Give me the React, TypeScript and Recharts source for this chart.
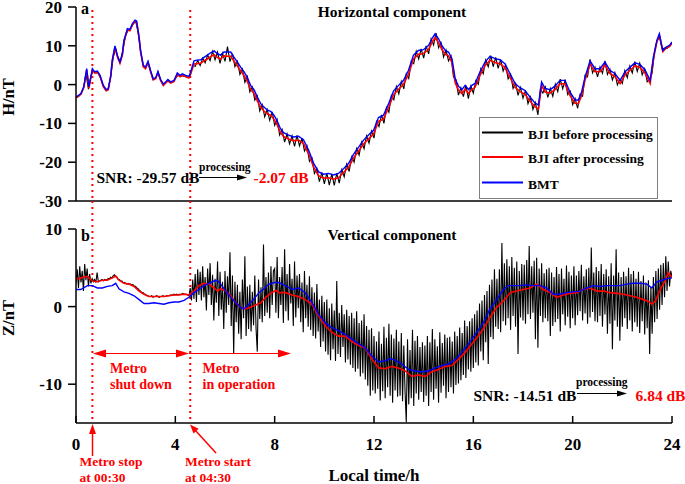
import React from 'react';
import { LineChart, Line, XAxis, YAxis, ReferenceLine } from 'recharts';

const FONT = '"Liberation Serif", "Times New Roman", serif';

const X_TICKS = [0, 4, 8, 12, 16, 20, 24];
const H_TICKS = [-30, -20, -10, 0, 10, 20];
const Z_TICKS = [-10, 0, 10];
const METRO_STOP_H = 0.66;
const METRO_START_H = 4.6;

const SERIES_NAMES = ['BJI before processing', 'BJI after processing', 'BMT'];

// Horizontal component, BMT  [hour, nT]
const H_BMT: [number, number][] = [
  [0, -3.2], [0.2, -2.3], [0.32, -0.4], [0.43, 4.1], [0.52, -0.6], [0.66, 4.1], [0.75, 3.3], [0.86, 3.5], [0.97, 2.4],
  [1.1, -0.2], [1.22, -1.3], [1.3, -1.0], [1.4, 2.4], [1.46, 6.3], [1.57, 10.0], [1.66, 7.6], [1.77, 5.8], [1.87, 8.0], [1.93, 11.4],
  [2.07, 14.4], [2.17, 14.2], [2.27, 15.7], [2.38, 16.6], [2.44, 16.4], [2.54, 12.3], [2.6, 8.8], [2.71, 5.0], [2.8, 4.5], [2.9, 6.0],
  [3.0, 3.7], [3.11, 1.5], [3.21, 1.8], [3.3, 3.4], [3.41, 1.3], [3.52, 0.1], [3.61, 0.7], [3.7, 1.3], [3.81, 0.7], [3.95, 1.1],
  [4.08, 3.0], [4.19, 2.4], [4.28, 2.8], [4.42, 2.4], [4.55, 2.1], [4.64, 3.7], [4.75, 6.1], [4.89, 6.3],
  [5.02, 6.4], [5.15, 7.0], [5.29, 7.6], [5.42, 8.2], [5.56, 8.7], [5.69, 8.0], [5.82, 7.6], [5.96, 8.4],
  [6.09, 8.4], [6.23, 8.4], [6.36, 7.1], [6.5, 5.8], [6.63, 4.5], [6.77, 3.3], [6.9, 1.8],
  [7.03, -0.2], [7.17, -1.3], [7.3, -3.2], [7.44, -4.9], [7.57, -5.8], [7.71, -6.6], [7.84, -6.9], [7.97, -7.9],
  [8.09, -9.2], [8.23, -11.3], [8.36, -12.4], [8.56, -13.0], [8.76, -13.5], [8.96, -13.3],
  [9.16, -14.2], [9.37, -16.9], [9.57, -20.3], [9.77, -22.5], [9.97, -23.1],
  [10.17, -22.9], [10.37, -23.3], [10.57, -22.9], [10.78, -21.6], [10.98, -20.3],
  [11.18, -17.9], [11.38, -16.1], [11.58, -14.3], [11.78, -13.0], [11.98, -11.8],
  [12.18, -8.5], [12.38, -7.9], [12.59, -4.9], [12.79, -1.6], [12.99, -0.2],
  [13.19, 1.1], [13.39, 3.7], [13.59, 7.6], [13.79, 8.8], [13.99, 9.0],
  [14.2, 10.1], [14.33, 11.8], [14.46, 13.1], [14.6, 11.8], [14.73, 10.1], [14.87, 8.8],
  [15.0, 8.4], [15.14, 6.7], [15.27, 1.5], [15.4, -0.4], [15.54, -1.3], [15.67, -0.2], [15.81, -1.3], [15.94, -0.2],
  [16.07, 0.3], [16.27, 3.3], [16.47, 5.8], [16.67, 7.3], [16.87, 6.7],
  [17.07, 6.4], [17.27, 5.4], [17.48, 2.8], [17.68, 0.3], [17.88, -0.8],
  [18.08, -1.5], [18.28, -3.2], [18.48, -4.7], [18.62, -5.3], [18.75, 0.7], [18.89, -1.0],
  [19.09, -1.3], [19.29, -0.4], [19.49, 1.1], [19.69, 1.1], [19.89, -1.9],
  [20.09, -3.9], [20.23, -4.0], [20.36, -1.9], [20.5, 2.0], [20.7, 6.1], [20.9, 4.1],
  [21.1, 4.1], [21.3, 5.8], [21.5, 3.7], [21.71, 2.8], [21.91, 1.1],
  [22.11, 3.3], [22.31, 4.5], [22.51, 5.6], [22.71, 5.2], [22.92, 3.7],
  [23.12, 1.1], [23.25, 7.1], [23.39, 11.4], [23.49, 13.1], [23.63, 8.8], [23.76, 9.7], [23.9, 10.1], [24.0, 11.0],
];

// Horizontal component, BJI after processing
const H_AFTER: [number, number][] = [
  [0, -3.4], [0.2, -2.5], [0.32, -0.6], [0.43, 3.8], [0.52, -0.9], [0.66, 3.8], [0.75, 3.0], [0.86, 3.2], [0.97, 2.1],
  [1.1, -0.5], [1.22, -1.6], [1.3, -1.3], [1.4, 2.1], [1.46, 6.0], [1.57, 9.7], [1.66, 7.3], [1.77, 5.5], [1.87, 7.7], [1.93, 11.1],
  [2.07, 14.1], [2.17, 13.9], [2.27, 15.4], [2.38, 16.3], [2.44, 16.1], [2.54, 12.0], [2.6, 8.5], [2.71, 4.6], [2.8, 4.1], [2.9, 5.7],
  [3.0, 3.4], [3.11, 1.2], [3.21, 1.5], [3.3, 3.1], [3.41, 1.0], [3.52, -0.2], [3.61, 0.4], [3.7, 1.0], [3.81, 0.4], [3.95, 0.8],
  [4.08, 2.6], [4.19, 2.0], [4.28, 2.4], [4.42, 2.0], [4.55, 1.7], [4.64, 3.2], [4.75, 5.3], [4.89, 5.4],
  [5.02, 5.5], [5.15, 6.1], [5.29, 6.6], [5.42, 7.2], [5.56, 7.7], [5.69, 7.0], [5.82, 6.6], [5.96, 7.4],
  [6.09, 7.3], [6.23, 7.3], [6.36, 6.1], [6.5, 4.8], [6.63, 3.5], [6.77, 2.3], [6.9, 0.8],
  [7.03, -1.2], [7.17, -2.3], [7.3, -4.2], [7.44, -5.9], [7.57, -6.8], [7.71, -7.6], [7.84, -7.9], [7.97, -8.9],
  [8.09, -10.2], [8.23, -12.3], [8.36, -13.4], [8.56, -14.0], [8.76, -14.5], [8.96, -14.3],
  [9.16, -15.2], [9.37, -17.9], [9.57, -21.3], [9.77, -23.5], [9.97, -24.1],
  [10.17, -24.0], [10.37, -24.4], [10.57, -24.0], [10.78, -22.6], [10.98, -21.3],
  [11.18, -18.9], [11.38, -17.1], [11.58, -15.3], [11.78, -14.0], [11.98, -12.8],
  [12.18, -9.5], [12.38, -8.9], [12.59, -5.9], [12.79, -2.6], [12.99, -1.2],
  [13.19, 0.1], [13.39, 2.7], [13.59, 6.6], [13.79, 7.8], [13.99, 8.0],
  [14.2, 9.1], [14.33, 10.8], [14.46, 12.1], [14.6, 10.8], [14.73, 9.1], [14.87, 7.8],
  [15.0, 7.4], [15.14, 5.7], [15.27, 0.5], [15.4, -1.4], [15.54, -2.3], [15.67, -1.2], [15.81, -2.3], [15.94, -1.2],
  [16.07, -0.7], [16.27, 2.4], [16.47, 4.9], [16.67, 6.3], [16.87, 5.7],
  [17.07, 5.4], [17.27, 4.4], [17.48, 1.8], [17.68, -0.7], [17.88, -1.8],
  [18.08, -2.5], [18.28, -4.2], [18.48, -5.7], [18.62, -6.3], [18.75, -0.2], [18.89, -1.9],
  [19.09, -2.2], [19.29, -1.3], [19.49, 0.2], [19.69, 0.2], [19.89, -2.8],
  [20.09, -4.8], [20.23, -4.9], [20.36, -2.8], [20.5, 1.2], [20.7, 5.3], [20.9, 3.3],
  [21.1, 3.3], [21.3, 5.0], [21.5, 2.9], [21.71, 2.0], [21.91, 0.3],
  [22.11, 2.5], [22.31, 3.7], [22.51, 4.8], [22.71, 4.4], [22.92, 2.9],
  [23.12, 0.3], [23.25, 6.5], [23.39, 11.0], [23.49, 12.8], [23.63, 8.5], [23.76, 9.4], [23.9, 9.8], [24.0, 10.7],
];

// Horizontal component, BJI before processing (every 0.1 h)
const H_BEFORE_STEP = 0.1;
const H_BEFORE: number[] = [
  -3.4, -3.1, -2.3, -1.0, 2.9, -1.2, 2.2, 3.6, 3.0, 3.0,
  1.4, -0.4, -1.5, -1.2, 2.2, 7.1, 9.2, 6.6, 6.3, 9.3,
  12.7, 14.0, 14.4, 15.6, 16.4, 13.5, 8.6, 4.9, 4.2, 5.6,
  3.5, 1.3, 1.6, 3.0, 1.3, -0.1, 0.4, 0.9, 0.5, 0.6,
  1.6, 2.4, 2.2, 2.2, 2.1, 1.9, 2.3, 4.9, 4.7, 6.2,
  4.9, 6.8, 5.6, 7.6, 6.2, 8.6, 6.4, 8.4, 5.5, 8.1,
  6.0, 9.8, 5.9, 8.0, 4.6, 6.0, 2.6, 4.0, 0.6, 2.1,
  -1.9, -0.6, -4.0, -2.9, -6.8, -5.2, -8.3, -6.4, -9.2, -7.0,
  -10.5, -9.0, -13.0, -11.6, -14.8, -12.7, -15.3, -13.2, -15.9, -13.1,
  -15.8, -13.8, -17.1, -15.8, -19.8, -18.9, -22.9, -21.6, -25.0, -22.6,
  -25.6, -22.8, -25.9, -23.0, -26.0, -22.9, -25.4, -21.9, -23.8, -20.5,
  -22.4, -18.6, -20.0, -16.5, -18.2, -14.8, -16.5, -13.2, -15.1, -12.0,
  -13.8, -9.5, -10.8, -7.8, -10.0, -5.9, -7.1, -2.8, -3.9, -0.5,
  -2.4, 0.8, -1.1, 2.8, 1.6, 6.0, 5.4, 8.6, 6.6, 9.2,
  6.8, 10.0, 7.9, 11.8, 10.2, 13.3, 9.5, 10.8, 7.1, 8.9,
  6.1, 7.4, 2.0, 1.3, -2.7, -0.8, -3.1, -0.2, -3.6, -0.4,
  -2.2, 1.0, 0.1, 4.1, 2.8, 6.4, 4.6, 7.5, 4.6, 7.0,
  4.2, 6.5, 3.5, 5.1, 1.5, 2.7, -1.0, 0.3, -2.8, -0.7,
  -3.5, -1.5, -4.9, -3.2, -6.4, -4.6, -7.8, -1.2, -2.2, -0.6,
  -3.3, -1.0, -3.0, 0.1, -1.8, 1.4, -1.1, 1.3, -2.6, -1.7,
  -5.2, -3.6, -6.1, -2.5, -3.0, 2.4, 2.0, 6.5, 3.0, 4.5,
  2.0, 4.5, 2.9, 6.1, 2.6, 4.0, 1.2, 3.1, -0.1, 1.4,
  0.3, 3.6, 1.8, 4.8, 3.0, 5.9, 3.4, 5.5, 2.5, 4.1,
  0.7, 1.4, 3.0, 8.6, 11.3, 12.2, 9.2, 9.4, 9.3, 10.0,
  10.6,
];

// Vertical component, BMT
const Z_BMT: [number, number][] = [
  [0, 2.2], [0.19, 2.2], [0.46, 2.7], [0.66, 2.7], [0.86, 2.4], [1.06, 2.4], [1.26, 2.6], [1.46, 2.7], [1.6, 3.0], [1.73, 2.3],
  [1.93, 1.9], [2.13, 1.7], [2.34, 1.4], [2.54, 0.9], [2.74, 0.4], [2.94, 0.4], [3.14, 0.5], [3.34, 0.4], [3.54, 0.3], [3.74, 0.5],
  [3.95, 0.6], [4.15, 0.6], [4.35, 0.8], [4.55, 1.2], [4.75, 1.8], [4.95, 2.2], [5.15, 2.7], [5.36, 3.0], [5.56, 3.3], [5.69, 3.4],
  [5.83, 2.9], [6.03, 2.0], [6.23, 1.2], [6.43, 0.5], [6.63, -0.1], [6.76, -0.3], [6.97, 0.3], [7.17, 1.0], [7.37, 1.8], [7.57, 2.3],
  [7.77, 2.9], [8.0, 3.1], [8.16, 3.1], [8.43, 2.7], [8.7, 2.2], [8.96, 2.4], [9.23, 1.8], [9.5, 0.5], [9.77, -1.0], [10.04, -2.1],
  [10.3, -2.7], [10.57, -3.1], [10.84, -3.6], [11.11, -4.2], [11.38, -4.8], [11.65, -5.3], [11.92, -6.4], [12.19, -7.1], [12.45, -7.0], [12.65, -6.7],
  [12.85, -6.9], [13.12, -7.4], [13.39, -8.1], [13.66, -8.3], [13.93, -8.4], [14.2, -8.3], [14.47, -7.9], [14.73, -7.6], [15.0, -7.4], [15.27, -6.8],
  [15.54, -5.9], [15.81, -4.8], [16.05, -3.7], [16.14, -3.3], [16.4, -2.1], [16.67, -0.3], [16.94, 0.9], [17.21, 2.2], [17.41, 2.7], [17.61, 2.7],
  [17.88, 2.7], [18.15, 2.8], [18.42, 2.7], [18.68, 2.7], [18.95, 2.4], [19.22, 1.6], [19.49, 1.6], [19.76, 1.8], [20.03, 1.9], [20.3, 2.0],
  [20.57, 2.4], [20.83, 2.7], [21.1, 2.6], [21.37, 2.7], [21.64, 2.7], [21.91, 2.7], [22.18, 2.9], [22.45, 3.0], [22.72, 3.0], [22.99, 2.9],
  [23.19, 2.4], [23.39, 3.2], [23.6, 3.4], [23.8, 3.6], [24.0, 3.7],
];

// Vertical component, BJI after processing
const Z_AFTER: [number, number][] = [
  [0, 3.5], [0.19, 3.7], [0.46, 3.9], [0.66, 3.3], [0.86, 3.2], [1.06, 3.4], [1.26, 3.4], [1.46, 3.7], [1.6, 3.9], [1.73, 3.4],
  [1.93, 3.0], [2.13, 2.9], [2.34, 2.6], [2.54, 2.0], [2.74, 1.6], [2.94, 1.3], [3.14, 1.3], [3.34, 1.3], [3.54, 1.3], [3.74, 1.4],
  [3.95, 1.5], [4.15, 1.5], [4.35, 1.6], [4.55, 1.5], [4.75, 2.0], [4.95, 2.7], [5.15, 3.0], [5.36, 2.9], [5.56, 2.4], [5.69, 2.0],
  [5.83, 2.3], [6.03, 2.0], [6.23, 1.4], [6.43, 0.5], [6.63, -0.1], [6.83, -0.3], [7.03, -0.1], [7.23, 0.2], [7.44, 0.5], [7.64, 1.2],
  [7.84, 1.7], [8.05, 2.1], [8.16, 1.8], [8.43, 1.8], [8.7, 1.5], [8.96, 1.3], [9.23, 0.9], [9.5, 0.3], [9.77, -1.2], [10.04, -2.5],
  [10.3, -3.3], [10.57, -3.8], [10.84, -3.8], [11.11, -4.5], [11.38, -5.0], [11.65, -5.3], [11.92, -6.8], [12.19, -7.9], [12.45, -8.0], [12.72, -7.7],
  [12.99, -7.9], [13.26, -8.3], [13.52, -9.0], [13.79, -8.8], [14.06, -9.0], [14.33, -8.4], [14.6, -8.1], [14.87, -7.7], [15.14, -7.6], [15.4, -6.8],
  [15.67, -5.9], [15.87, -5.1], [16.14, -4.0], [16.4, -2.9], [16.67, -1.4], [16.94, -0.1], [17.21, 0.7], [17.48, 1.8], [17.74, 2.0], [18.01, 2.2],
  [18.28, 2.4], [18.55, 2.9], [18.82, 2.2], [19.09, 1.8], [19.35, 1.2], [19.62, 1.5], [19.89, 1.7], [20.16, 1.8], [20.43, 2.2], [20.7, 2.4],
  [20.97, 2.0], [21.24, 2.0], [21.5, 1.8], [21.77, 1.7], [22.04, 1.6], [22.31, 1.4], [22.58, 1.2], [22.85, 0.9], [23.05, 0.7], [23.19, 0.3],
  [23.33, 0.7], [23.53, 2.2], [23.72, 3.3], [23.85, 4.4], [24.0, 3.7],
];

// Vertical component, BJI before processing (every 0.05 h)
const Z_BEFORE_STEP = 0.05;
const Z_BEFORE: number[] = [
  3.0, 4.8, 2.4, 5.2, 3.1, 4.6, 2.0, 5.5, 3.4, 4.9, 2.6, 4.2, 3.0, 3.6, 3.2, 3.5, 3.1, 4.4, 3.2, 3.3,
  3.4, 3.5, 3.3, 3.5, 3.4, 3.5, 3.6, 3.6, 3.8, 3.7, 4.0, 4.1, 3.9, 3.8, 3.5, 3.5, 3.3, 3.3, 3.1, 3.1,
  3.0, 2.9, 3.0, 2.9, 2.9, 2.8, 2.8, 2.6, 2.6, 2.4, 2.3, 2.1, 2.0, 1.8, 1.8, 1.6, 1.6, 1.4, 1.4, 1.3,
  1.3, 1.4, 1.2, 1.3, 1.3, 1.4, 1.3, 1.2, 1.3, 1.3, 1.4, 1.3, 1.3, 1.4, 1.4, 1.4, 1.5, 1.5, 1.5, 1.6,
  1.5, 1.6, 1.5, 1.6, 1.6, 1.6, 1.7, 1.6, 1.6, 1.6, 1.5, 1.4, 2.4, 0.8, 3.5, 1.0, 4.2, 0.6, 4.8, 1.5,
  4.5, 0.8, 5.2, 1.2, 3.8, -0.5, 4.9, 1.5, 5.6, 0.2, 4.1, -1.8, 3.6, 0.5, 5.8, -1.2, 4.5, -0.4, 3.2, -2.9,
  4.6, -0.8, 3.9, 0.2, 7.0, -2.5, 4.0, -6.1, 3.2, -2.0, 2.8, -3.5, 1.9, -4.2, 3.5, -1.5, 6.5, -3.8, 2.6, -2.9,
  2.8, -3.2, 1.9, -2.4, 4.0, -2.8, -5.8, 3.5, -1.6, 2.5, -2.0, 8.0, -1.2, 3.8, -0.8, 4.4, -1.5, 5.2, 0.2, 4.6,
  4.9, -0.8, 6.4, -1.5, 3.8, 0.2, 5.1, -2.1, 7.4, -0.6, 4.2, -1.8, 5.5, 0.4, 3.6, -2.5, 5.8, -1.4, 4.0, -0.2,
  4.2, -2.0, 3.1, -3.3, 4.6, -1.5, 2.8, -2.6, 3.9, -3.0, 2.5, -3.8, 1.8, -4.1, 2.9, -3.2, 0.9, -5.2, 1.4, -4.5,
  0.6, -5.8, 0.9, -6.2, -0.2, -6.9, 0.4, -5.5, -0.5, -7.0, 3.3, -6.1, -0.8, -6.5, 0.2, -5.2, -1.0, -7.2, -0.4, -6.8,
  -1.2, -7.5, -0.8, -7.9, -1.5, -8.4, -0.6, -8.0, -2.1, -9.0, -1.8, -8.6, -1.0, -9.4, -2.5, -10.2, -3.0, -11.5, -2.8, -10.8,
  -3.8, -11.2, -4.5, -10.6, -3.2, -12.1, -4.8, -10.9, -2.6, -11.8, -4.0, -10.4, -2.2, -11.5, -3.6, -12.4, -4.1, -10.8, -3.0, -11.6,
  -4.5, -11.5, -3.4, -12.2, -5.0, -10.9, -14.9, -4.2, -12.6, -5.6, -11.8, -3.0, -12.8, -4.4, -11.2, -3.8, -12.0, -5.2, -11.0, -4.6,
  -12.3, -5.0, -11.5, -3.8, -12.8, -4.6, -11.0, -2.9, -12.0, -4.2, -10.6, -5.1, -12.4, -3.3, -11.1, -4.7, -10.2, -3.6, -11.8, -4.0,
  -11.0, -3.9, -10.4, -4.5, -11.2, -3.2, -10.1, -3.8, -9.9, -2.7, -9.5, -3.4, -8.8, -1.8, -9.2, -2.5, -8.1, -1.9, -8.4, -1.5,
  -7.9, -1.0, -7.2, -0.5, -7.6, 0.4, -5.8, 0.8, -6.9, 1.5, -4.6, 2.0, -7.4, 2.8, -3.9, 3.5, -4.2, 4.8, -2.6, 3.6,
  -2.9, 4.8, -3.3, 8.2, -1.9, 5.6, -2.4, 6.1, -1.5, 5.2, -3.0, 6.4, -1.2, 5.0, -2.6, 5.8, -6.1, 4.6, -1.4, 5.5,
  -1.8, 5.4, -2.2, 6.0, -1.0, 7.8, -1.6, 5.2, -0.8, 5.9, -4.2, 6.3, -5.3, 4.9, -1.2, 5.6, -2.0, 4.3, -1.5, 4.8,
  -1.9, 5.0, -3.8, 4.4, -2.5, 3.8, -2.0, 5.1, -1.6, 4.2, -3.2, 4.9, -1.0, 3.6, -2.4, 5.3, -1.3, 4.5, -2.8, 4.0,
  -1.5, 5.2, -2.4, 4.0, -1.1, 4.6, -0.6, 5.4, -1.8, 3.9, -0.9, 4.8, -2.2, 5.0, -1.4, 7.6, -0.7, 4.4, -1.9, 5.1,
  -2.0, 4.6, -1.2, 5.5, -2.6, 4.2, -1.0, 4.8, -3.5, 3.9, -2.2, 5.6, -5.5, 4.0, -1.8, 7.4, -2.6, 4.4, -4.4, 3.8,
  -2.6, 4.5, -1.5, 3.9, -2.9, 5.0, -1.8, 4.2, -3.2, 4.6, -2.0, 3.6, -2.6, 4.5, -3.4, 3.3, -1.9, 4.0, -3.6, 3.1,
  -2.8, 3.4, -6.1, 2.6, -3.5, 3.8, -2.0, 4.6, -1.6, 4.9, -0.4, 5.4, 0.2, 5.6, 1.2, 6.5, 2.0, 5.8, 2.6, 4.6,
  3.8,
];

const fromPairs = (p: [number, number][]) => p.map(([t, v]) => ({ t, v }));
const fromGrid = (vals: number[], step: number) => vals.map((v, i) => ({ t: Math.round(i * step * 1000) / 1000, v }));

const hBmt = fromPairs(H_BMT);
const hAfter = fromPairs(H_AFTER);
const hBefore = fromGrid(H_BEFORE, H_BEFORE_STEP);
const zBmt = fromPairs(Z_BMT);
const zAfter = fromPairs(Z_AFTER);
const zBefore = fromGrid(Z_BEFORE, Z_BEFORE_STEP);

const tickStyle = { fontFamily: FONT, fontSize: 17, fontWeight: 'bold', fill: '#000' } as any;
const axisStroke = { stroke: '#000', strokeWidth: 1.5 } as any;

const dotted = (extendUp: number) => (props: any) => {
  const top = Math.min(props.y1, props.y2) - extendUp;
  const bottom = Math.max(props.y1, props.y2);
  return (
    <line x1={props.x1} x2={props.x2} y1={top} y2={bottom} stroke="#ff0000" strokeWidth={2} strokeDasharray="2 4" />
  );
};

const RED = '#ff0000';

export default function App() {
  return (
    <div style={{ position: 'absolute', left: 0, top: 0, width: 685, height: 484, background: '#fff', fontFamily: FONT }}>
      <div style={{ position: 'absolute', left: 0, top: 0 }}>
        <LineChart width={685} height={215} margin={{ top: 7, right: 13, left: 16, bottom: 4 }}>
          <XAxis dataKey="t" type="number" domain={[0, 24]} ticks={[24]} tick={false} tickSize={7} height={10}
            axisLine={axisStroke} tickLine={axisStroke} allowDataOverflow />
          <YAxis type="number" domain={[-30, 20]} ticks={H_TICKS} interval={0} width={60} tickSize={8} tickMargin={6}
            tick={tickStyle} axisLine={axisStroke} tickLine={axisStroke} allowDataOverflow />
          <ReferenceLine x={METRO_STOP_H} shape={dotted(-3)} />
          <ReferenceLine x={METRO_START_H} shape={dotted(-3)} />
          <Line data={hBefore} dataKey="v" name={SERIES_NAMES[0]} stroke="#000" strokeWidth={1.1} dot={false} isAnimationActive={false} />
          <Line data={hAfter} dataKey="v" name={SERIES_NAMES[1]} stroke={RED} strokeWidth={1.6} dot={false} isAnimationActive={false} />
          <Line data={hBmt} dataKey="v" name={SERIES_NAMES[2]} stroke="#0000ff" strokeWidth={1.4} dot={false} isAnimationActive={false} />
        </LineChart>
      </div>
      <div style={{ position: 'absolute', left: 0, top: 195 }}>
        <LineChart width={685} height={289} margin={{ top: 34, right: 13, left: 16, bottom: 21 }}>
          <XAxis dataKey="t" type="number" domain={[0, 24]} ticks={X_TICKS} interval={0} tickSize={-7} tickMargin={22}
            height={40} tick={tickStyle} axisLine={axisStroke} tickLine={axisStroke} allowDataOverflow />
          <YAxis type="number" domain={[-15, 10]} ticks={Z_TICKS} interval={0} width={60} tickSize={8} tickMargin={6}
            tick={tickStyle} axisLine={axisStroke} tickLine={axisStroke} allowDataOverflow />
          <ReferenceLine x={METRO_STOP_H} shape={dotted(28)} />
          <ReferenceLine x={METRO_START_H} shape={dotted(28)} />
          <Line data={zBefore} dataKey="v" name={SERIES_NAMES[0]} stroke="#000" strokeWidth={1.1} dot={false} isAnimationActive={false} />
          <Line data={zAfter} dataKey="v" name={SERIES_NAMES[1]} stroke={RED} strokeWidth={1.6} dot={false} isAnimationActive={false} />
          <Line data={zBmt} dataKey="v" name={SERIES_NAMES[2]} stroke="#0000ff" strokeWidth={1.4} dot={false} isAnimationActive={false} />
        </LineChart>
      </div>
      <svg width={685} height={484} style={{ position: 'absolute', left: 0, top: 0, pointerEvents: 'none' }}
        fontFamily={FONT} fontWeight="bold">
        {/* panel labels & titles */}
        <text x={81} y={13.5} fontSize={16}>a</text>
        <text x={81} y={241} fontSize={16}>b</text>
        <text x={392} y={16.5} fontSize={15.5} textAnchor="middle">Horizontal component</text>
        <text x={392} y={240} fontSize={15.5} textAnchor="middle">Vertical component</text>
        <text x={13.5} y={97} fontSize={16.5} textAnchor="middle" transform="rotate(-90 13.5 97)">H/nT</text>
        <text x={13.5} y={318} fontSize={16.5} textAnchor="middle" transform="rotate(-90 13.5 318)">Z/nT</text>
        <text x={374} y={480.5} fontSize={17} textAnchor="middle">Local time/h</text>

        {/* SNR top */}
        <text x={96.5} y={183} fontSize={15.5}>SNR: -29.57 dB</text>
        <text x={199} y={170.5} fontSize={11.5}>processing</text>
        <line x1={199} y1={177.5} x2={240} y2={177.5} stroke="#000" strokeWidth={1} />
        <polygon points="247,177.5 237,174.5 237,180.5" fill="#000" />
        <text x={253.5} y={183} fontSize={15.5} fill={RED}>-2.07 dB</text>

        {/* SNR bottom */}
        <text x={473.5} y={401} fontSize={15.5}>SNR: -14.51 dB</text>
        <text x={576} y={385.5} fontSize={11.5}>processing</text>
        <line x1={577} y1={393.5} x2={620} y2={393.5} stroke="#000" strokeWidth={1} />
        <polygon points="627,393.5 617,390.5 617,396.5" fill="#000" />
        <text x={635.5} y={401} fontSize={15.5} fill={RED}>6.84 dB</text>

        {/* legend */}
        <rect x={479.5} y={117.5} width={178} height={81} fill="#fff" stroke="#808080" strokeWidth={1} />
        <line x1={482} y1={132.5} x2={523} y2={132.5} stroke="#000" strokeWidth={2} />
        <line x1={482} y1={157} x2={523} y2={157} stroke={RED} strokeWidth={2} />
        <line x1={482} y1={182.5} x2={523} y2={182.5} stroke="#0000ff" strokeWidth={2} />
        <text x={528} y={138.5} fontSize={13.5}>{SERIES_NAMES[0]}</text>
        <text x={528} y={163} fontSize={13.5}>{SERIES_NAMES[1]}</text>
        <text x={528} y={188.5} fontSize={13.5}>{SERIES_NAMES[2]}</text>

        {/* metro annotations */}
        <line x1={100} y1={353.5} x2={182} y2={353.5} stroke={RED} strokeWidth={1.2} />
        <polygon points="93,353.5 106,349.5 106,357.5" fill={RED} />
        <polygon points="189,353.5 176,349.5 176,357.5" fill={RED} />
        <line x1={189} y1={353.5} x2={283} y2={353.5} stroke={RED} strokeWidth={1.2} />
        <polygon points="291,353.5 278,349.5 278,357.5" fill={RED} />
        <g fill={RED} fontSize={14}>
          <text x={110} y={372.5}>Metro</text>
          <text x={110} y={388.5}>shut down</text>
          <text x={202.5} y={372.5}>Metro</text>
          <text x={202.5} y={388.5}>in operation</text>
          <text x={79.5} y={466} fontSize={13.5}>Metro stop</text>
          <text x={79.5} y={481.5} fontSize={13.5}>at  00:30</text>
          <text x={185} y={466} fontSize={13.5}>Metro start</text>
          <text x={185} y={481.5} fontSize={13.5}>at 04:30</text>
        </g>
        <line x1={92.5} y1={456} x2={92.5} y2={432} stroke={RED} strokeWidth={1.5} />
        <polygon points="92.5,424 89,434 96,434" fill={RED} />
        <line x1={216} y1={453} x2={195} y2={430} stroke={RED} strokeWidth={1.5} />
        <polygon points="190,424.5 198.7,428.8 193.5,433.5" fill={RED} />
      </svg>
    </div>
  );
}
